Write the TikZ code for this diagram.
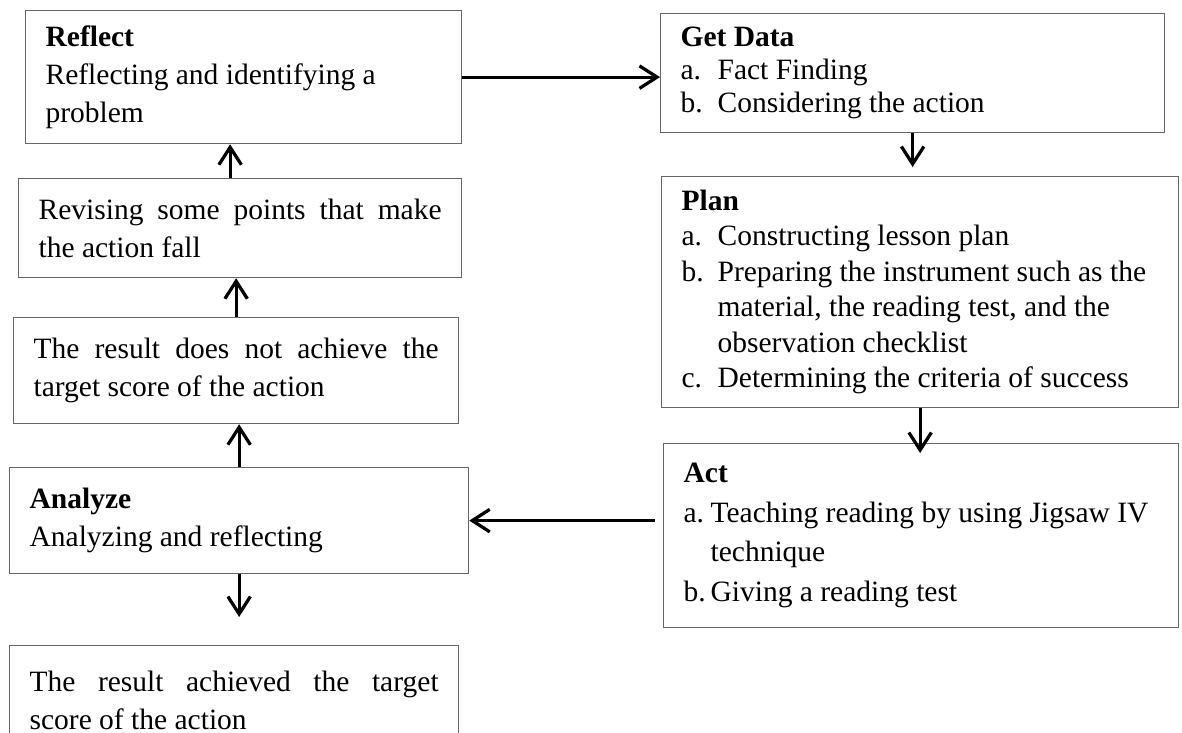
\documentclass[tikz,border=0pt]{standalone}
\usepackage{fontspec}
\setmainfont{Liberation Serif}
\usetikzlibrary{arrows.meta}

\newcommand{\lab}[2]{\makebox[#1][l]{#2}}
\newcommand{\justline}[1]{{\spaceskip=0.25em plus 1fil\relax\makebox[\linewidth][s]{#1}}}

\tikzset{
    >=Stealth,
    % Boxes
    box/.style={rectangle, draw=black!60, line width=0.5pt, fill=white, anchor=north west,
                inner xsep=8pt, inner ysep=0pt, align=flush left,
                font=\fontsize{11.8}{15.2}\selectfont},
    % Flow
    flow/.style={-{Straight Barb[length=7pt, width=9pt]}, line width=1.3pt, black}
}

\begin{document}
\begin{tikzpicture}[x=0.4pt, y=-0.4pt]
\clip (0,0) rectangle (1182,733);
\fill[white] (0,0) rectangle (1182,733);

% left column
\node[box, text width=158.4pt, minimum height=53.2pt] (reflect) at (25,10)
    {\textbf{Reflect}\\Reflecting and identifying a\\problem};
\node[box, text width=161.2pt, minimum height=39.6pt] (revise) at (18,178)
    {\justline{Revising some points that make}\\the action fall};
\node[box, text width=162pt, minimum height=42.4pt] (doesnot) at (13,317)
    {\justline{The result does not achieve the}\\target score of the action};
\node[box, text width=167.6pt, minimum height=42.4pt] (analyze) at (9,467)
    {\textbf{Analyze}\\Analyzing and reflecting};
\node[box, text width=163.6pt, minimum height=44pt] (achieved) at (9,645)
    {\justline{The result achieved the target}\\score of the action};

% right column
\node[box, text width=185.6pt, minimum height=47.6pt, font=\fontsize{11.8}{13.2}\selectfont] (getdata) at (660,13)
    {\textbf{Get Data}\\\lab{14.8pt}{a.}Fact Finding\\\lab{14.8pt}{b.}Considering the action};
\node[box, text width=190.8pt, minimum height=92.4pt, font=\fontsize{11.8}{14.2}\selectfont] (plan) at (661,176)
    {\textbf{Plan}\\\lab{14.4pt}{a.}Constructing lesson plan\\
     \lab{14.4pt}{b.}Preparing the instrument such as the\\
     \hspace*{14.4pt}material, the reading test, and the\\
     \hspace*{14.4pt}observation checklist\\
     \lab{14.4pt}{c.}Determining the criteria of success};
\node[box, text width=190pt, minimum height=73.6pt, font=\fontsize{11.8}{15.8}\selectfont] (act) at (663,443)
    {\textbf{Act}\\\lab{10.8pt}{a.}\mbox{Teaching reading by using Jigsaw IV}\\
     \hspace*{10.8pt}technique\\
     \lab{10.8pt}{b.}Giving a reading test};

% connectors
\draw[flow] (reflect.east) -- (reflect.east -| getdata.west);
\draw[flow, shorten >=3.6pt] (getdata) -- (getdata |- plan.north);
\draw[flow, shorten >=-4pt] (plan) -- (plan |- act.north);
\draw[flow, shorten <=3.2pt] (act.west |- analyze.east) -- (analyze.east);
\draw[flow, shorten >=11.2pt] (analyze) -- (analyze |- achieved.north);
\draw[flow] (analyze) -- (analyze |- doesnot.south);
\draw[flow] (doesnot) -- (doesnot |- revise.south);
\draw[flow] ([xshift=-4pt]revise.north) -- ([xshift=-4pt]revise.north |- reflect.south);

\end{tikzpicture}
\end{document}
